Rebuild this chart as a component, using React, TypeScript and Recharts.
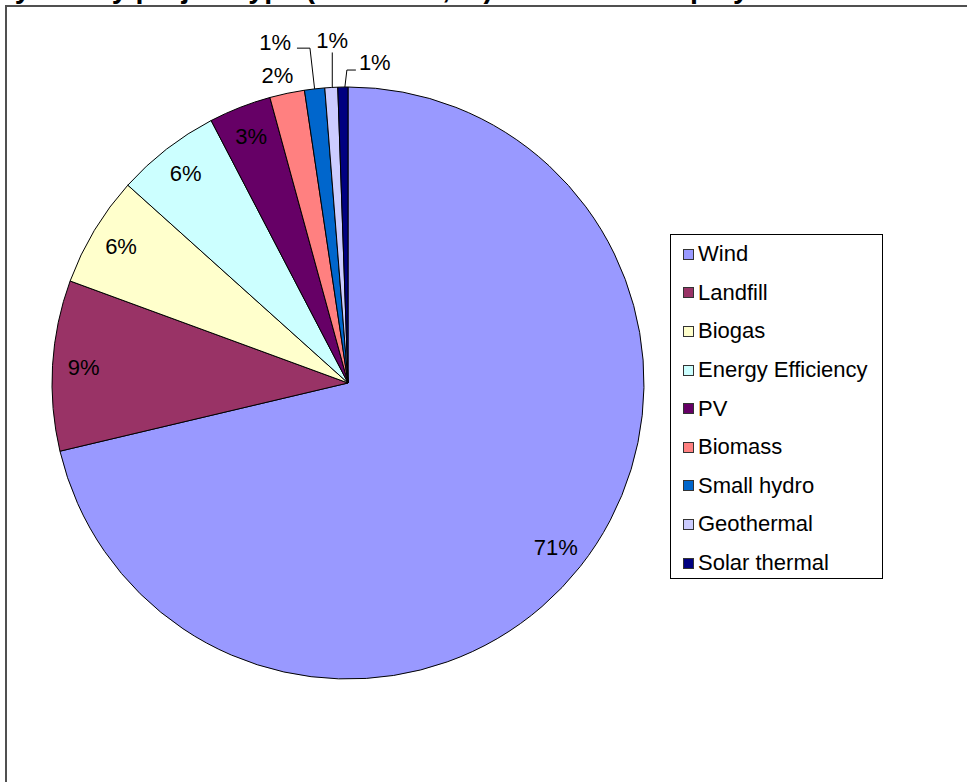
import React from 'react';
import { PieChart, Pie, Cell, Legend } from 'recharts';

const categories = ['Wind', 'Landfill', 'Biogas', 'Energy Efficiency', 'PV', 'Biomass', 'Small hydro', 'Geothermal', 'Solar thermal'];
const shares = [71.3, 9.3, 6.05, 5.7, 3.4, 1.9, 1.1, 0.7, 0.55];
const colors = ['#9999FF', '#993366', '#FFFFCC', '#CCFFFF', '#660066', '#FF8080', '#0066CC', '#CCCCFF', '#000080'];
const titleText = 'Electricity Mix by project type (rated MW, %) – all ownership by state';

const data = categories.map((name, i) => ({ name, value: shares[i] }));

const FONT = '"Liberation Sans", Arial, sans-serif';
const RAD = Math.PI / 180;

const renderLabel = (props: any) => {
  const { cx, cy, midAngle, outerRadius, percent, index } = props;
  const text = `${Math.round(percent * 100)}%`;
  const pt = (r: number) => ({
    x: cx + r * Math.cos(-midAngle * RAD),
    y: cy + r * Math.sin(-midAngle * RAD),
  });
  const style: any = { fontFamily: FONT, fontSize: 22, fill: '#000' };
  if (index <= 4) {
    const p = pt(outerRadius * 0.895);
    return (
      <text x={p.x} y={p.y} textAnchor="middle" dominantBaseline="central" style={style}>
        {text}
      </text>
    );
  }
  if (index === 5) {
    const p = pt(outerRadius + 18);
    return (
      <text x={p.x - 6} y={p.y} textAnchor="middle" dominantBaseline="central" style={style}>
        {text}
      </text>
    );
  }
  if (index === 6) {
    const a = pt(outerRadius);
    const e = pt(outerRadius + 41);
    return (
      <g>
        <polyline points={`${a.x},${a.y} ${e.x},${e.y} ${e.x - 13},${e.y}`} fill="none" stroke="#000" strokeWidth={1} />
        <text x={e.x - 19} y={e.y - 6} textAnchor="end" dominantBaseline="central" style={style}>
          {text}
        </text>
      </g>
    );
  }
  if (index === 7) {
    const a = pt(outerRadius);
    const topY = a.y - 35;
    return (
      <g>
        <line x1={a.x + 1} y1={a.y} x2={a.x + 1} y2={topY} stroke="#000" strokeWidth={1} />
        <text x={a.x + 1} y={topY - 12} textAnchor="middle" dominantBaseline="central" style={style}>
          {text}
        </text>
      </g>
    );
  }
  const a = pt(outerRadius);
  const e = { x: a.x + 4, y: a.y - 17 };
  return (
    <g>
      <polyline points={`${a.x + 2},${a.y} ${e.x},${e.y} ${e.x + 9},${e.y}`} fill="none" stroke="#000" strokeWidth={1} />
      <text x={e.x + 12} y={e.y - 8} textAnchor="start" dominantBaseline="central" style={style}>
        {text}
      </text>
    </g>
  );
};

const renderLegend = (props: any) => {
  const payload = [...(props.payload || [])].sort(
    (a: any, b: any) => categories.indexOf(a.value) - categories.indexOf(b.value)
  );
  return (
    <div
      style={{
        border: '1px solid #000',
        background: '#fff',
        width: 213,
        height: 345,
        boxSizing: 'border-box',
        fontFamily: FONT,
        fontSize: 22,
        color: '#000',
        paddingTop: 0,
      }}
    >
      {payload.map((entry: any, i: number) => (
        <div key={i} style={{ height: 38.6, display: 'flex', alignItems: 'center', paddingLeft: 12, whiteSpace: 'nowrap' }}>
          <span
            style={{
              display: 'inline-block',
              width: 11,
              height: 11,
              background: entry.color,
              border: '1px solid #333',
              boxSizing: 'border-box',
              marginRight: 4,
              flex: '0 0 auto',
            }}
          />
          <span>{entry.value}</span>
        </div>
      ))}
    </div>
  );
};

export default function App() {
  return (
    <div style={{ position: 'absolute', left: 0, top: 0, width: 967, height: 782, background: '#fff', overflow: 'hidden' }}>
      <div
        style={{
          position: 'absolute',
          left: 5,
          top: 5,
          width: 1000,
          height: 1000,
          border: '2px solid #505050',
          boxSizing: 'border-box',
        }}
      />
      <svg width={967} height={20} style={{ position: 'absolute', left: 0, top: 0 }}>
        <text x={-106} y={-2} style={{ fontFamily: FONT, fontSize: 28.6, fontWeight: 'bold', fill: '#000' }}>
          {titleText}
        </text>
      </svg>
      <div style={{ position: 'absolute', left: 0, top: 0 }}>
        <PieChart width={967} height={782} margin={{ top: 0, right: 0, bottom: 0, left: 0 }}>
          <Pie
            data={data}
            dataKey="value"
            nameKey="name"
            cx={348}
            cy={383}
            outerRadius={296}
            startAngle={90}
            endAngle={-270}
            stroke="#000"
            strokeWidth={1}
            label={renderLabel}
            labelLine={false}
            isAnimationActive={false}
          >
            {data.map((d, i) => (
              <Cell key={d.name} fill={colors[i]} />
            ))}
          </Pie>
          <Legend
            layout="vertical"
            align="right"
            verticalAlign="middle"
            content={renderLegend}
            wrapperStyle={{ position: 'absolute', left: 670, top: 234, right: 'auto', bottom: 'auto', width: 213 }}
          />
        </PieChart>
      </div>
    </div>
  );
}
